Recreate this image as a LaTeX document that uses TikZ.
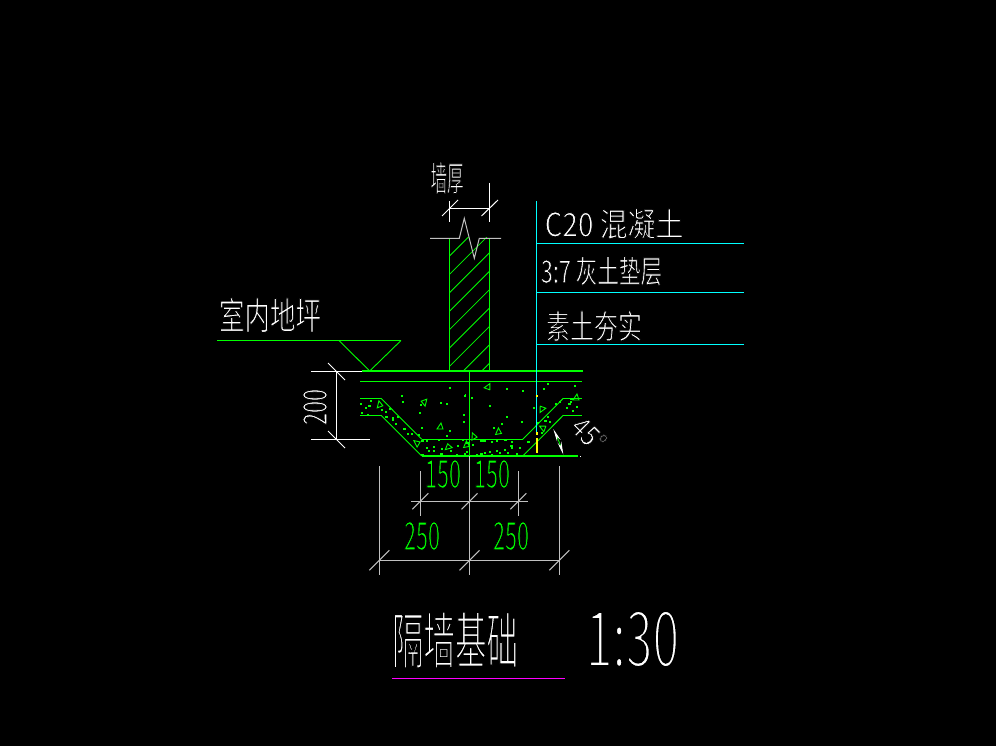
\documentclass[tikz,border=0pt]{standalone}
\usepackage{fontspec}
\usetikzlibrary{arrows.meta, positioning}
\newfontfamily\cjk{Noto Sans CJK SC}
% pare the glyphs down to a thin plotter line
\newcommand\thinstroke[1]{\special{pdf:code 2 Tr 0 0 0 RG #1 w}}
\definecolor{cadgreen}{RGB}{0,255,0}
\definecolor{cadcyan}{RGB}{0,255,255}
\definecolor{cadyellow}{RGB}{255,255,0}
\definecolor{cadmagenta}{RGB}{255,0,255}
\definecolor{cadgray}{RGB}{192,192,192}

\begin{document}
\begin{tikzpicture}[x=1pt, y=-1pt, line width=1pt,
  wall/.style={draw=cadgreen, line width=1.1pt},
  hatch/.style={draw=cadgreen, line width=.8pt},
  concrete/.style={draw=cadgreen, line width=1.2pt},
  slope/.style={draw=cadgreen, line width=.9pt},
  dim/.style={draw=cadgray},
  cad/.style={white, inner sep=0pt, font=\cjk\fontsize{30}{30}\selectfont},
  dimtext/.style={cad, text=cadgreen, xscale=.72, yscale=1.3}]
\fill[black] (0,0) rectangle (996,746);
\useasboundingbox (0,0) rectangle (996,746);

\coordinate (WL) at (449.5,371);
\coordinate (WR) at (489.5,371);
\coordinate (AX) at (469.5,371);

% wall
\begin{scope}
\clip (449.5,238) rectangle (489.5,371);
\foreach \k in {0,...,9} \draw[hatch] (449.5,256+18.4*\k) -- ++(40,-40);
\end{scope}
\draw[wall] (WL) -- (449.5,238);
\draw[wall] (WR) -- (489.5,238);
\draw[dim] (430,238.3) -- (459.3,238.3) -- (464.3,218.3) -- (474.3,258.3) -- (479.3,238.3) -- (501,238.3);

% thickness
\draw[white] (449.5,201) -- (449.5,222);
\draw[white] (489.5,183) -- (489.5,222);
\draw[white] (449.5,208.3) -- (489.5,208.3);
\draw[white] (442,216) -- (458,200);
\draw[white] (481.5,216) -- (498,200);
\node[cad, xscale=.55, yscale=1.15] (thick) at (447,178) {\thinstroke{.7}墙厚};

% floor mark
\draw[cadgreen, line width=1.2pt] (217,340.5) -- (401,340.5);
\draw[slope] (339,340.5) -- (369.7,371) -- (401,340.5);
\node[cad, xscale=.85, yscale=1.25] (floorlabel) at (270,315) {\thinstroke{.8}室内地坪};

% footing
\draw[concrete] (AX) -- (582.7,371);
\draw[concrete] (362,371) -- (AX);
\draw[concrete] (360,381.3) -- (582,381.3);
\draw[concrete] (360,398.3) -- (381,398.3);
\draw[concrete] (360,415.3) -- (381,415.3);
\draw[concrete] (563.3,398.3) -- (582,398.3);
\draw[concrete] (563.3,415.3) -- (582,415.3);
\draw[concrete] (421.7,439.3) -- (522.7,439.3);
\draw[concrete] (421.7,456) -- (578,456);
\draw[slope] (381,398.3) -- (421.7,439.3);
\draw[slope] (381,415.3) -- (421.7,456);
\draw[slope] (522.7,439.3) -- (563.3,398.3);
\draw[slope] (522.7,456) -- (563.3,415.3);
\draw[cadgreen] (AX) -- (469.5,456);

% concrete fill
\foreach \x/\y in {450/388,465.7/395,402/396,403/402,421/405,441/403,447/404,420/413,464/415,464/422,396/424,393/418,393/420,398/417,422/428,450/431,447/436,408/434,412/434,419/435,361/404,366/408,371/401,362/413,368/415,382/410,386/412,390/409,427/441,439/440,463/440,434/447,427/448,429/451,434/451,442/449,458/446,451/451,467/452,457/455,465/454,507/389,523/391,544/389,548/384,575/386,490/406,507/417,522/422,502/424,494/428,534/408,556/404,560/402,567/408,571/402,573/411,577/407,548/417,550/422,542/433,538/423,465/396,472/398,481/441,483/441,485/441,492/442,473/445,497/441,512/442,520/448,512/448,505/450,497/451,490/452,485/453,500/453,508/453,517/454,477/455,492/455}
  \fill[cadgreen] (\x-.6,\y-.6) rectangle ++(1.2,1.2);
\foreach \x/\y in {369/406,386/417,404/429,422/441,422/455,441/454,505/440,467/443,511/446,528/442,545/421,569/404,571/399,481/454}
  \fill[cadgreen] (\x-1.5,\y-1) rectangle ++(3,2);
\foreach \x/\y/\r in {379/404/20,425/403/200,440/426/0,416/443/60,448/448/140,466/444/10,488/386/-20,498/431/10,542/410/160,542/428/70,473/436/30,576/397/0}
  \draw[cadgreen, line width=.9pt, rotate around={\r:(\x,\y)}] (\x-3,\y+3) -- (\x+1,\y-3) -- (\x+3,\y+3) -- cycle;

% layers
\draw[cadcyan] (536.7,201) -- (536.7,432);
\draw[cadcyan] (537,243.3) -- (744,243.3);
\draw[cadcyan] (537,292.3) -- (744,292.3);
\draw[cadcyan] (537,344.3) -- (744,344.3);
\fill[cadyellow] (536,395) rectangle ++(1.6,2);
\fill[cadyellow] (536,432) rectangle ++(1.6,3);
\fill[cadyellow] (536,438) rectangle ++(1.6,15);
\node[cad, xscale=.93, yscale=1.1] (layerA) at (614,224) {\thinstroke{.8}C20 混凝土};
\node[cad, xscale=.72, yscale=1.05] (layerB) at (601.5,271) {\thinstroke{.7}3:7 灰土垫层};
\node[cad, xscale=.8, yscale=1.1] (layerC) at (594,326) {\thinstroke{.8}素土夯实};

% slope
\draw[slope, {Stealth[white, length=13pt, width=4pt]}-{Stealth[white, length=13pt, width=4pt]}] (553.3,429) to[bend left=4] (563.3,454.5);
\fill[white] (579.5,455.5) rectangle ++(1.2,1.2);
\node[cad, rotate=-45, xscale=.8, yscale=.95] (slopelabel) at (589,434) {\thinstroke{.8}45°};

% depth
\draw[white] (311,371) -- (362,371);
\draw[white] (311,439) -- (370,439);
\draw[white] (336.7,371) -- (336.7,439);
\draw[white] (328,363) -- (345,380);
\draw[white] (328,431) -- (345,448);
\node[cad, rotate=90, xscale=.72, yscale=1.1] (depth) at (315,407) {\thinstroke{.9}200};

% plan widths
\draw[dim] (379.3,466) -- (379.3,575);
\draw[dim] (469.5,456) -- (469.5,575);
\draw[dim] (559.3,466) -- (559.3,575);
\draw[dim] (379.3,560.3) -- (559.3,560.3);
\foreach \x in {379.3,469.5,559.3} \draw[dim] (\x-10,570.3) -- (\x+10,550.3);
\draw[dim] (420.3,471) -- (420.3,516);
\draw[dim] (518.3,471) -- (518.3,516);
\draw[dim] (411,501.3) -- (528,501.3);
\foreach \x in {420.3,469.5,518.3} \draw[dim] (\x-8,509.3) -- (\x+8,493.3);
\node[dimtext] (wL) at (443,474) {\thinstroke{.9}150};
\node[dimtext] (wR) at (492,474) {\thinstroke{.9}150};
\node[dimtext] (bL) at (422,536) {\thinstroke{.9}250};
\node[dimtext] (bR) at (511,536) {\thinstroke{.9}250};

% title
\node[cad, xscale=1.05, yscale=2.05] (title) at (455,640) {\thinstroke{.95}隔墙基础};
\node[cad, xscale=1.6, yscale=2.6] (titlescale) at (632.5,639) {\thinstroke{1.3}1:30};
\draw[cadmagenta] (392,678.5) -- (565,678.5);
\end{tikzpicture}
\end{document}
